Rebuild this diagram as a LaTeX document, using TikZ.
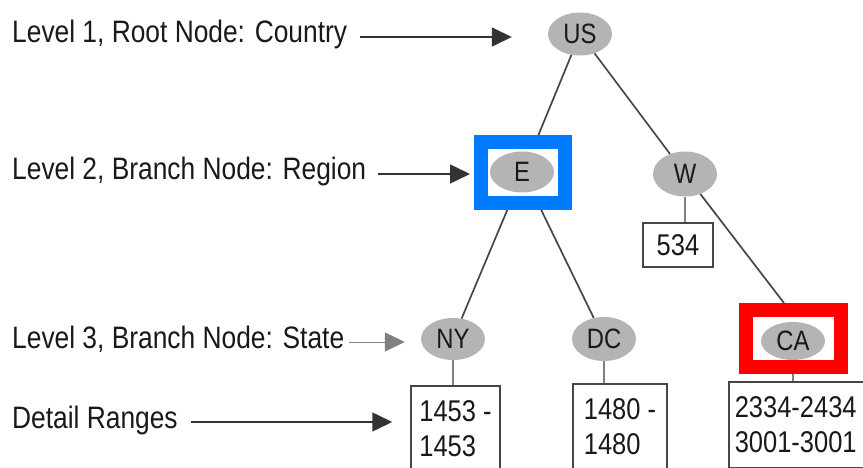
\documentclass[tikz,border=0pt]{standalone}
\usepackage{fontspec}
\setmainfont[FakeStretch=0.85]{Liberation Sans}
\usetikzlibrary{shapes.geometric,arrows.meta}
\definecolor{nodegray}{RGB}{180,180,180}
\definecolor{edgegray}{RGB}{70,70,70}
\definecolor{hiblue}{RGB}{0,122,255}
\definecolor{hired}{RGB}{255,0,0}
\begin{document}
\begin{tikzpicture}[x=1pt,y=-1pt,
  lvl/.style={ellipse, fill=nodegray, inner sep=0pt, minimum width=64pt, minimum height=43pt, text=black!90, font=\fontsize{28}{32}\selectfont},
  lbl/.style={anchor=base west, inner sep=0pt, text height=22pt, text depth=10pt, text=black!90, font=\fontsize{31}{36}\selectfont},
  leaf/.style={draw=edgegray, line width=1.5pt, inner sep=0pt, align=left, text=black!90, font=\fontsize{30}{35}\selectfont},
  hilite/.style={rectangle, line width=14pt, inner sep=0pt},
  pointer/.style={draw=black!80, line width=1.5pt, -{Triangle[length=20pt,width=19pt]}},
  branch/.style={draw=edgegray, line width=1.7pt},
  stem/.style={draw=gray, line width=2pt}]
\useasboundingbox (0,0) rectangle (863,468);
\node[lbl] (lab1) at (12,43) {Level 1, Root Node: Country};
\node[lbl] (lab2) at (12,180) {Level 2, Branch Node: Region};
\node[lbl] (lab3) at (12,348) {Level 3, Branch Node: State};
\node[lbl] (lab4) at (12,428) {Detail Ranges};
\node[lvl] (US) at (580,34) {US};
\node[lvl, minimum height=41pt] (E) at (522,172) {E};
\node[lvl, minimum height=45pt] (W) at (685,174) {W};
\node[lvl, minimum height=42pt] (NY) at (453,339) {NY};
\node[lvl, minimum height=44pt] (DC) at (604,339) {DC};
\node[lvl, minimum height=38pt] (CA) at (793,341) {CA};
\node[leaf, align=center, minimum width=70pt, minimum height=44pt] (b534) at (678,245) {534};
\node[leaf, anchor=north, minimum width=89pt, minimum height=86pt] (nyBox) at (455.5,385) {1453 -\\1453};
\node[leaf, anchor=north, minimum width=94pt, minimum height=86pt] (dcBox) at (620,383) {1480 -\\1480};
\node[leaf, anchor=north west, text width=140pt, inner xsep=6pt, minimum height=86pt] (caLeaf) at (728,381) {2334-2434\\3001-3001};
\draw[stem] (W) -- (W |- b534.north);
\draw[stem] (NY) -- (NY |- nyBox.north);
\draw[stem] (DC) -- (DC |- dcBox.north);
\draw[stem] (CA) -- (CA |- caLeaf.north);
\node[hilite, draw=hiblue, minimum width=84pt, minimum height=61pt] (eBox) at (523,172.5) {};
\node[hilite, draw=hired, minimum width=95pt, minimum height=57pt] (caBox) at (793.5,338.5) {};
\draw[branch] (US) -- (eBox);
\draw[branch] (US) -- (W);
\draw[branch] (eBox) -- (NY);
\draw[branch] (eBox) -- (DC);
\draw[branch] (W) -- (caBox.105);
\draw[pointer, shorten <=13pt, shorten >=36pt] (lab1.east) -- (lab1.east -| US.west);
\draw[pointer, shorten <=12pt, shorten >=4pt] (lab2.east) -- (lab2.east -| eBox.west);
\draw[pointer, line width=1pt, draw=gray, shorten <=5pt, shorten >=16pt] (lab3.east) -- (lab3.east -| NY.west);
\draw[pointer, shorten <=13pt, shorten >=18pt] (lab4.east) -- (lab4.east -| nyBox.west);
\end{tikzpicture}
\end{document}
